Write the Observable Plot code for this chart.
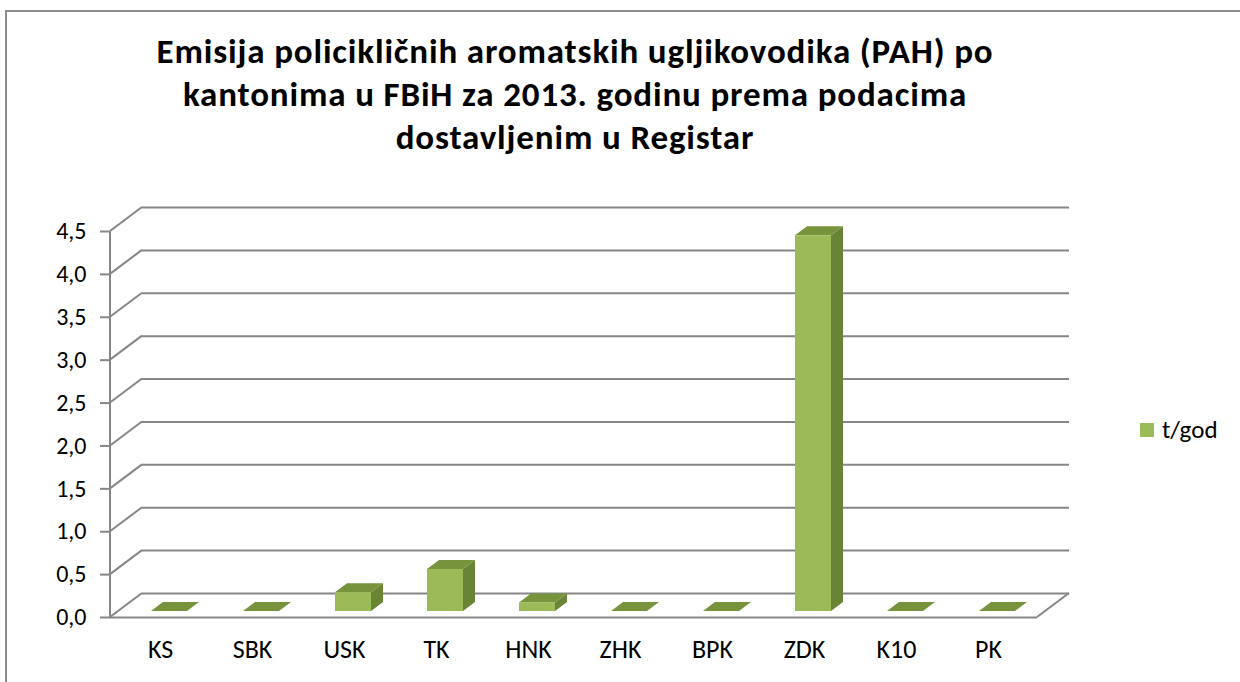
<!DOCTYPE html>
<html><head><meta charset="utf-8">
<script src="https://cdn.jsdelivr.net/npm/d3@7"></script>
<script src="https://cdn.jsdelivr.net/npm/@observablehq/plot@0.6"></script>
<style>
html,body{margin:0;padding:0;background:#fff;width:1240px;height:682px;overflow:hidden;font-family:Carlito,Lato,sans-serif;}
#frame{position:absolute;left:5px;top:10px;width:1260px;height:700px;border:2px solid #8c8c8c;box-sizing:border-box;}
#title{position:absolute;left:75px;width:1000px;top:29.5px;text-align:center;font-weight:bold;font-size:35px;letter-spacing:0.85px;line-height:43px;color:#000;}
#chart{position:absolute;left:0;top:180px;}
#chart svg text{font-size:24px !important;}
#chart svg g[aria-label="x-axis tick label"] text{font-size:26px !important;}
#legend{position:absolute;left:1140px;top:414px;font-size:25px;line-height:32px;color:#000;white-space:nowrap;}
#legend .sw{display:inline-block;width:14px;height:14px;background:#9bbb59;margin-right:8px;vertical-align:1px;}
</style></head><body>
<div id="frame"></div>
<div id="title">Emisija policikličnih aromatskih ugljikovodika (PAH) po<br>kantonima u FBiH za 2013. godinu prema podacima<br>dostavljenim u Registar</div>
<div id="chart"></div>
<div id="legend"><span class="sw"></span><span id="legtext"></span></div>
<script>
const cantons = ["KS","SBK","USK","TK","HNK","ZHK","BPK","ZDK","K10","PK"];
const values = [0, 0, 0.22, 0.49, 0.1, 0, 0, 4.38, 0, 0];
const yTicks = [0, 0.5, 1, 1.5, 2, 2.5, 3, 3.5, 4, 4.5];
const seriesName = "t/god";

const data = cantons.map((c, i) => ({canton: c, value: values[i]}));
document.getElementById("legtext").textContent = seriesName;

const GRID = "#868686";
const WALL_DX = 32, WALL_DY = 24;    // depth of the 3D box
const BAR_OFF_Y = 6;                 // bar front plane offset
const BAR_DX = 12, BAR_DY = 9;       // bar depth
const INSET_L = 37, INSET_R = 19;    // front face within band

function scene(index, scales, values_, dims) {
  const sx = scales.x, sy = scales.y;
  const x0 = dims.marginLeft, x1 = dims.width - dims.marginRight;
  const step = sx(cantons[1]) - sx(cantons[0]);
  const g = d3.create("svg:g");
  for (const t of yTicks) {
    g.append("line").attr("x1", x0).attr("y1", sy(t)).attr("x2", x0 + WALL_DX).attr("y2", sy(t) - WALL_DY)
      .attr("stroke", GRID).attr("stroke-width", 2);
  }
  g.append("line").attr("x1", x1).attr("y1", sy(0)).attr("x2", x1 + WALL_DX).attr("y2", sy(0) - WALL_DY)
    .attr("stroke", GRID).attr("stroke-width", 2);
  g.append("line").attr("x1", x0).attr("y1", sy(0)).attr("x2", x0).attr("y2", sy(4.5))
    .attr("stroke", GRID).attr("stroke-width", 2);
  const w = step - INSET_L - INSET_R;
  for (const d of data) {
    const xl = sx(d.canton) + INSET_L, xr = xl + w;
    const yb = sy(0) - BAR_OFF_Y, yt = sy(d.value) - BAR_OFF_Y;
    const top = [[xl, yt], [xr, yt], [xr + BAR_DX, yt - BAR_DY], [xl + BAR_DX, yt - BAR_DY]];
    const side = [[xr, yt], [xr, yb], [xr + BAR_DX, yb - BAR_DY], [xr + BAR_DX, yt - BAR_DY]];
    if (yb - yt > 0.5) g.append("polygon").attr("points", side.map(p => p.join(",")).join(" ")).attr("fill", "#6a8436");
    g.append("polygon").attr("points", top.map(p => p.join(",")).join(" ")).attr("fill", "#77933c");
  }
  return g.node();
}

const chart = Plot.plot({
  width: 1240,
  height: 500,
  marginLeft: 110,
  marginRight: 203,
  marginTop: 51,
  marginBottom: 63,
  style: {fontFamily: "Carlito, Lato, sans-serif", fontSize: "24px", background: "transparent", color: "#000"},
  x: {type: "band", domain: cantons, padding: 0, label: null},
  y: {domain: [0, 4.5], label: null},
  marks: [
    Plot.ruleY(yTicks, {dx: WALL_DX, dy: -WALL_DY, stroke: GRID, strokeWidth: 2}),
    Plot.ruleY([0], {stroke: GRID, strokeWidth: 2}),
    scene,
    Plot.barY(data, {x: "canton", y: "value", fill: "#9bbb59", insetLeft: INSET_L, insetRight: INSET_R, dy: -BAR_OFF_Y}),
    Plot.axisY(yTicks, {tickSize: 10, tickPadding: 14, stroke: GRID, strokeWidth: 2, fill: "#000",
      tickFormat: d => d.toFixed(1).replace(".", ",")}),
    Plot.axisX({tickSize: 0, tickPadding: 22, fill: "#000"})
  ]
});
document.getElementById("chart").appendChild(chart);
</script>
</body></html>
